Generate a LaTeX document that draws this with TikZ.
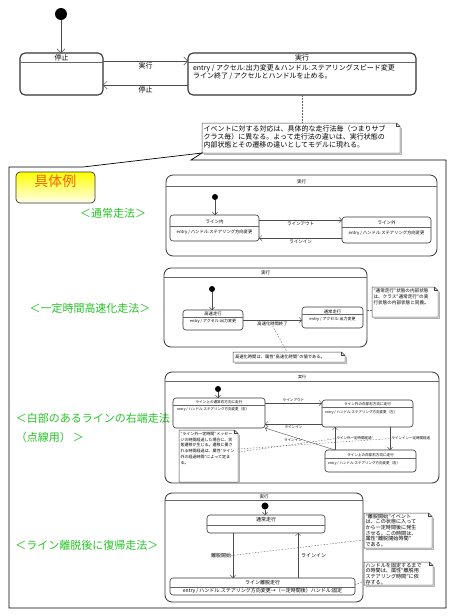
\documentclass[tikz,border=0pt]{standalone}
\usepackage{fontspec}
\setmainfont{Noto Sans CJK JP}
\usetikzlibrary{arrows.meta,positioning,fit}
\definecolor{methgreen}{RGB}{35,195,35}
\definecolor{exorange}{RGB}{240,100,10}
\newcommand{\fsz}[2]{\fontsize{#1pt}{#2pt}\selectfont}
\newcommand{\dognote}[1]{%
  \draw[black!30,line width=1pt] ([shift={(1pt,-5pt)}]#1.north east) |- ([shift={(2pt,-1pt)}]#1.south west);
  \draw[noteborder] (#1.north west) -- ([xshift=-3.5pt]#1.north east) -- ([yshift=-3.5pt]#1.north east) |- (#1.south west) -- cycle;
  \draw[noteborder] ([xshift=-3.5pt]#1.north east) |- ([yshift=-3.5pt]#1.north east);}

\begin{document}
\begin{tikzpicture}[x=1pt,y=-1pt,
    every node/.style={inner sep=0pt,outer sep=0pt},
    lbl/.style={font=\fsz{#1}{#1}},
    notetext/.style 2 args={font=\fsz{#1}{#2},align=left},
    state/.style={draw=black!80,line width=0.8pt,rounded corners=5pt},
    substate/.style={draw=black!80,line width=0.6pt,rounded corners=3pt},
    sepline/.style={draw=black!60,line width=0.4pt},
    initdot/.style={circle,fill=black,minimum size=#1},
    trans/.style={draw=black!70,line width=0.5pt,-{Straight Barb[length=4pt,width=8pt]}},
    strans/.style={draw=black!70,line width=0.4pt,-{Straight Barb[length=2.5pt,width=5pt]}},
    noteborder/.style={draw=black!75,line width=0.5pt},
    noteline/.style={draw=black!60,line width=0.4pt,dash pattern=on 1.5pt off 1.5pt},
    method/.style={text=methgreen,font=\fsz{11}{19}}]
  \useasboundingbox (0,0) rectangle (454,616);

  % top level
  \node[initdot=12pt] (ini0) at (61,14) {};
  \node[state,line width=1.1pt,fit={(20,53) (103,95)}] (teishi) {};
  \node[lbl=7,below=1.5pt of teishi.north] {停止};
  \draw[sepline] ([yshift=-9pt]teishi.north west) -- ([yshift=-9pt]teishi.north east);
  \node[state,line width=1.1pt,fit={(188,53) (416,95)}] (jikko0) {};
  \node[lbl=7,below=1.5pt of jikko0.north] {実行};
  \draw[sepline] ([yshift=-9pt]jikko0.north west) -- ([yshift=-9pt]jikko0.north east);
  \node[notetext={7}{7.6},below right=12pt and 5pt of jikko0.north west]
    {entry / アクセル:出力変更＆ハンドル:ステアリングスピード変更\\ライン終了 / アクセルとハンドルを止める。};
  \draw[trans] (ini0) -- (ini0 |- teishi.north);
  \draw[trans] ([yshift=-8pt]teishi.north east) -- ([yshift=-8pt]jikko0.north west)
    node[midway,below=2pt,lbl=7] {実行};
  \draw[trans] ([yshift=10pt]jikko0.south west) -- ([yshift=10pt]teishi.south east)
    node[midway,below=2pt,lbl=7] {停止};

  \node[fit={(202,123) (400,153)}] (note0) {};
  \dognote{note0}
  \node[notetext={7}{8},below right=2pt and 1.5pt of note0.north west]
    {イベントに対する対応は、具体的な走行法毎（つまりサブ\\クラス毎）に異なる。よって走行法の違いは、実行状態の\\内部状態とその遷移の違いとしてモデルに現れる。};
  \draw[noteline] (jikko0.south) -- (jikko0.south |- note0.north);

  % callout frame
  \draw[line width=0.7pt] (9,167) -- (83,167) -- (note0.south west) -- (191,160)
    -- (446,160) -- (446,608) -- (9,608) -- cycle;
  \node[draw=black!80,line width=0.7pt,rounded corners=4pt,top color=yellow,bottom color=yellow!6,
    fit={(16,172) (95,203)},text=exorange,font=\fsz{14}{14}] (gutai) {具体例};

  \node[method] (meth1) at (113,213) {＜通常走法＞};
  \node[method] (meth2) at (90,308) {＜一定時間高速化走法＞};
  \node[method,align=left,anchor=west] (meth3) at (16,427.5) {＜白部のあるラインの右端走法\\（点線用）\,＞};
  \node[method] (meth4) at (87,545) {＜ライン離脱後に復帰走法＞};

  % 通常走法
  \node[state,rounded corners=7pt,fit={(166,175) (437,256)}] (jikko1) {};
  \node[lbl=4.5,below=5pt of jikko1.north] {実行};
  \draw[sepline] ([yshift=-11pt]jikko1.north west) -- ([yshift=-11pt]jikko1.north east);
  \node[initdot=6pt] (ini1) at (215,197) {};
  \node[substate,fit={(170,215) (259,241)}] (linein1) {};
  \node[lbl=4.5,below=4.5pt of linein1.north] {ライン内};
  \draw[sepline] ([yshift=-11pt]linein1.north west) -- ([yshift=-11pt]linein1.north east);
  \node[lbl=4.3,below=15pt of linein1.north] {entry / ハンドル:ステアリング方向変更};
  \node[substate,fit={(342,217) (431,243)}] (lineout1) {};
  \node[lbl=4.5,below=4pt of lineout1.north] {ライン外};
  \draw[sepline] ([yshift=-10pt]lineout1.north west) -- ([yshift=-10pt]lineout1.north east);
  \node[lbl=4.3,below=14pt of lineout1.north] {entry / ハンドル:ステアリング方向変更};
  \draw[strans] (ini1) -- (ini1 |- linein1.north);
  \draw[strans] (linein1.east |- 0,220) -- (lineout1.west |- 0,220)
    node[midway,below=1.8pt,lbl=4.5] {ラインアウト};
  \draw[strans] (lineout1.west |- 0,238) -- (linein1.east |- 0,238)
    node[midway,below=1.8pt,lbl=4.5] {ラインイン};

  % 一定時間高速化走法
  \node[state,rounded corners=7pt,fit={(164,268) (367,347)}] (jikko2) {};
  \node[lbl=4.5,below=3pt of jikko2.north] {実行};
  \draw[sepline] ([yshift=-9pt]jikko2.north west) -- ([yshift=-9pt]jikko2.north east);
  \node[initdot=6pt] (ini2) at (212,289) {};
  \node[substate,fit={(183,310) (243,330)}] (kosoku2) {};
  \node[lbl=4.3,below=2pt of kosoku2.north] {高速走行};
  \draw[sepline] ([yshift=-7pt]kosoku2.north west) -- ([yshift=-7pt]kosoku2.north east);
  \node[lbl=4,below=9.5pt of kosoku2.north] {entry / アクセル:出力変更};
  \node[substate,fit={(302,307) (363,328)}] (tsujo2) {};
  \node[lbl=4.3,below=2.5pt of tsujo2.north] {通常走行};
  \draw[sepline] ([yshift=-7.5pt]tsujo2.north west) -- ([yshift=-7.5pt]tsujo2.north east);
  \node[lbl=4,below=10.5pt of tsujo2.north] {entry / アクセル:出力変更};
  \draw[strans] (ini2) -- (ini2 |- kosoku2.north);
  \draw[strans] (kosoku2.east |- 0,320) -- (tsujo2.west |- 0,320)
    node[midway,below=1.8pt,lbl=4.3] (lblkoso) {高速化時間終了};

  \node[fit={(233,352) (345,362)}] (note2a) {};
  \dognote{note2a}
  \node[lbl=4.3,right=2pt of note2a.west] {高速化時間は、属性“高速化時間”の値である。};
  \draw[noteline] (lblkoso.south) -- ([xshift=-2pt]note2a.north);
  \node[fit={(372,287) (438,317)}] (note2b) {};
  \dognote{note2b}
  \node[notetext={4.6}{5.6},below right=2pt and 1.5pt of note2b.north west]
    {“通常走行”状態の内部状態\\は、クラス“通常走行”の実\\行状態の内部状態と同義。};
  \draw[noteline] (jikko2.east |- 0,310) -- (note2b.west |- 0,310);

  % 白部のあるラインの右端走法
  \node[state,rounded corners=7pt,fit={(165,372) (439,483)}] (jikko3) {};
  \node[lbl=4,below=3pt of jikko3.north] {実行};
  \draw[sepline] ([yshift=-9pt]jikko3.north west) -- ([yshift=-9pt]jikko3.north east);
  \node[initdot=6pt] (ini3) at (218,389) {};
  \node[substate,fit={(173,398) (265,428)}] (linetsu3) {};
  \node[lbl=3.6,below=2.3pt of linetsu3.north] {ライン上の通常右方向に走行};
  \draw[sepline] ([yshift=-7.5pt]linetsu3.north west) -- ([yshift=-7.5pt]linetsu3.north east);
  \node[lbl=3.5,below right=9.5pt and 4pt of linetsu3.north west] {entry / ハンドル:ステアリング方向変更（右）};
  \node[substate,fit={(322,400) (413,427)}] (lineout3) {};
  \node[lbl=3.6,below=2.3pt of lineout3.north] {ライン外の白部右方向に走行};
  \draw[sepline] ([yshift=-7.5pt]lineout3.north west) -- ([yshift=-7.5pt]lineout3.north east);
  \node[lbl=3.5,below right=10.5pt and 3pt of lineout3.north west] {entry / ハンドル:ステアリング方向変更（左）};
  \node[substate,fit={(325,450) (416,472)}] (lineon3) {};
  \node[lbl=3.6,below=3pt of lineon3.north] {ライン上の白部右方向に走行};
  \draw[sepline] ([yshift=-8pt]lineon3.north west) -- ([yshift=-8pt]lineon3.north east);
  \node[lbl=3.5,below right=11pt and 3pt of lineon3.north west] {entry / ハンドル:ステアリング方向変更（右）};
  \draw[strans] (ini3) -- (ini3 |- linetsu3.north);
  \draw[strans] (linetsu3.east |- 0,403) -- (lineout3.west |- 0,403)
    node[midway,above=1.2pt,lbl=3.6] {ラインアウト};
  \draw[strans] (lineout3.west |- 0,424) -- (linetsu3.east |- 0,424)
    node[midway,below=1.5pt,lbl=3.6] {ラインイン};
  \coordinate (c3a) at ([xshift=10pt]lineon3.north west);
  \coordinate (c3b) at ([xshift=-23pt]lineout3.south east);
  \draw[strans] (c3a) -- (linetsu3.south east) node[pos=0.6,below=2pt,lbl=3.6] {ラインイン};
  \draw[strans] (c3a) -- (c3a |- lineout3.south)
    node[midway,right=1.5pt,lbl=3.5] (lblout3) {ライン外一定時間経過”};
  \draw[strans] (c3b) -- (c3b |- lineon3.north)
    node[midway,right=1.5pt,lbl=3.5] (lblin3) {ラインイン一定時間経過};

  \node[fit={(179,430) (238,482)}] (noteD) {};
  \dognote{noteD}
  \node[notetext={4}{5.8},below right=2pt and 1.5pt of noteD.north west]
    {“ライン外一定時間”メッセー\\ジの時間経過した場合に、状\\態遷移が生じる。遷移に要さ\\れる時間経過は、属性“ライン\\外の経過時間”によって定ま\\る。};
  \draw[noteline] (noteD.east |- 0,452) -- (lblout3.west);
  \draw[noteline] (noteD.east |- 0,449) -- (lblin3.west);

  % ライン離脱後に復帰走法
  \node[state,rounded corners=7pt,fit={(165,493) (363,602)}] (jikko4) {};
  \node[lbl=4.5,below=2pt of jikko4.north] {実行};
  \draw[sepline] ([yshift=-7.5pt]jikko4.north west) -- ([yshift=-7.5pt]jikko4.north east);
  \node[initdot=7pt] (ini4) at (265,506) {};
  \node[substate,fit={(207,515) (325,533)}] (tsujo4) {};
  \node[lbl=5,below=2.5pt of tsujo4.north] {通常走行};
  \draw[sepline] ([yshift=-10pt]tsujo4.north west) -- ([yshift=-10pt]tsujo4.north east);
  \node[substate,fit={(170,578) (355,595)}] (ridatsu4) {};
  \node[lbl=5,below=2pt of ridatsu4.north] {ライン離脱走行};
  \draw[sepline] ([yshift=-9pt]ridatsu4.north west) -- ([yshift=-9pt]ridatsu4.north east);
  \node[lbl=5,below=10pt of ridatsu4.north] {entry / ハンドル:ステアリング方向変更→（一定時間後）ハンドル:固定};
  \draw[strans] (ini4) -- (ini4 |- tsujo4.north);
  \coordinate (c4a) at ([xshift=26pt]tsujo4.south west);
  \coordinate (c4b) at ([xshift=-27pt]tsujo4.south east);
  \draw[strans] (c4a) -- (c4a |- ridatsu4.north) node[midway,left=2pt,lbl=5] (lbl4) {離脱開始};
  \draw[strans] (c4b |- ridatsu4.north) -- (c4b) node[midway,right=3pt,lbl=5] {ラインイン};

  \node[fit={(364,513) (432,548)}] (noteE) {};
  \dognote{noteE}
  \node[notetext={5.1}{5.6},below right=1pt and 1.5pt of noteE.north west]
    {“離脱開始”イベント\\は、この状態に入って\\から一定時間後に発生\\させる。この時間は、\\属性“離脱開始時間”\\である。};
  \draw[noteline] (lbl4.east) -- (noteE.west |- 0,540);
  \node[fit={(364,562) (433,585)}] (noteF) {};
  \dognote{noteF}
  \node[notetext={5.1}{5.6},below right=1pt and 1.5pt of noteF.north west]
    {ハンドルを固定するまで\\の時間は、属性“離脱用\\ステアリング時間”に依\\存する。};
  \draw[noteline] (ridatsu4.east |- 0,585) -- (noteF.west |- 0,581);
\end{tikzpicture}
\end{document}
